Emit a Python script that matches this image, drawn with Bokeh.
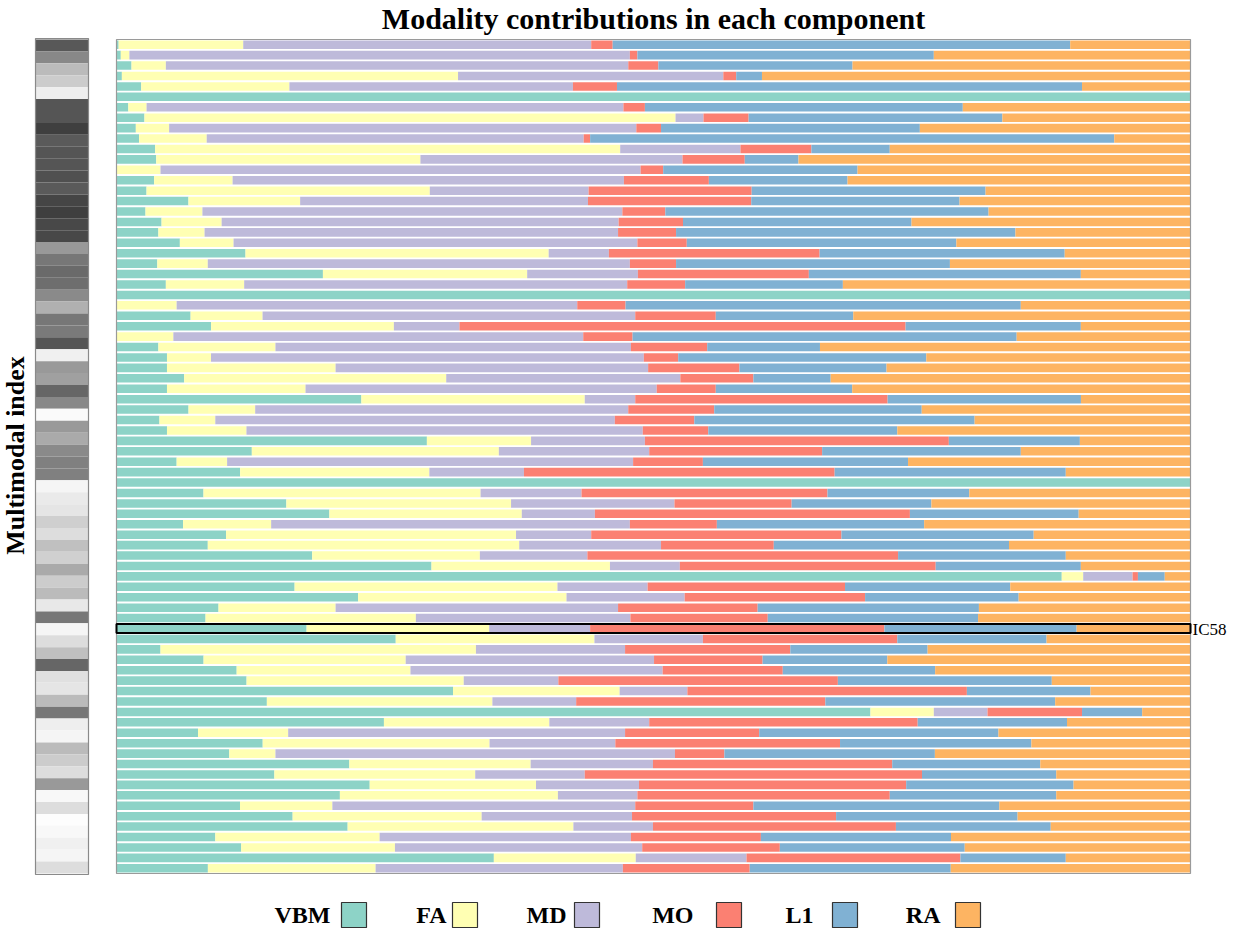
from math import pi

from bokeh.plotting import figure
from bokeh.models import Range1d
from bokeh.core.properties import value
from bokeh.embed import file_html
from bokeh.resources import INLINE

# ---- data -------------------------------------------------------------
modalities = ["VBM", "FA", "MD", "MO", "L1", "RA"]
colors = ["#8dd3c7", "#ffffb3", "#bebada", "#fb8072", "#80b1d3", "#fdb462"]

# percentage contribution of each modality, one entry per component (top to bottom)
vbm = [0.2, 0.4, 1.4, 0.5, 2.3, 100, 1.1, 2.6, 1.8, 2.1,
       3.6, 3.7, 0.0, 3.5, 2.8, 6.7, 2.7, 4.2, 3.9, 5.9,
       12.0, 3.8, 19.2, 4.6, 100, 0.0, 6.9, 8.8, 0.0, 3.9,
       4.7, 4.7, 6.3, 4.7, 22.8, 6.7, 4.0, 4.7, 28.9, 12.6,
       5.6, 11.5, 100, 8.1, 15.8, 19.8, 6.2, 10.2, 8.5, 18.2,
       29.3, 88.1, 16.6, 22.5, 9.5, 8.3, 17.7, 26.0, 4.1, 8.1,
       11.2, 12.1, 31.3, 14.0, 70.2, 24.9, 7.6, 13.6, 10.5, 21.7,
       14.7, 23.6, 20.8, 11.5, 16.4, 21.5, 9.2, 11.6, 35.1, 8.5]
fa = [11.6, 0.8, 3.2, 31.3, 13.8, 0, 1.7, 49.4, 3.1, 6.3,
      43.3, 24.6, 4.1, 7.3, 26.4, 10.4, 5.3, 5.6, 4.3, 5.0,
      28.2, 4.7, 19.0, 7.3, 0, 5.6, 6.7, 17.0, 5.3, 10.9,
      4.1, 15.7, 24.4, 12.9, 20.8, 6.2, 5.2, 7.4, 9.7, 23.0,
      4.7, 17.6, 0, 25.8, 20.9, 17.9, 8.2, 27.0, 29.0, 15.6,
      16.6, 2.0, 24.5, 19.4, 10.9, 19.6, 17.0, 18.5, 29.4, 18.8,
      16.2, 20.2, 15.5, 21.0, 5.9, 15.4, 8.4, 21.1, 4.3, 16.9,
      18.7, 15.5, 20.3, 8.6, 17.6, 21.0, 15.3, 14.3, 13.2, 15.6]
md = [32.4, 46.6, 43.1, 24.7, 26.4, 0, 44.4, 2.6, 43.5, 35.1,
      11.2, 24.4, 44.7, 36.4, 14.8, 26.8, 39.1, 37.0, 38.5, 37.6,
      5.6, 39.3, 10.3, 35.7, 0, 37.3, 34.7, 6.1, 38.2, 33.1,
      40.3, 29.1, 21.8, 32.7, 4.7, 34.7, 37.2, 36.9, 10.6, 14.0,
      37.8, 8.8, 0, 9.4, 15.2, 6.8, 33.4, 7.0, 13.2, 10.0,
      6.5, 4.6, 8.4, 11.0, 26.3, 20.0, 9.4, 10.1, 13.9, 23.1,
      23.5, 8.8, 6.3, 7.8, 5.0, 9.3, 31.4, 11.7, 37.2, 11.4,
      10.2, 9.6, 7.4, 28.2, 14.0, 7.4, 23.4, 23.0, 10.3, 23.0]
mo = [2.0, 0.7, 2.8, 1.2, 4.1, 0, 2.0, 4.2, 2.3, 0.6,
      6.6, 5.8, 2.1, 7.9, 15.2, 15.2, 4.0, 6.0, 5.4, 4.6,
      19.6, 4.3, 15.9, 5.4, 0, 4.5, 7.5, 41.5, 4.6, 7.1,
      3.2, 8.5, 6.8, 5.5, 23.5, 8.0, 7.4, 6.1, 28.3, 16.1,
      6.5, 28.9, 0, 22.9, 10.9, 29.3, 8.1, 23.3, 10.5, 28.9,
      23.8, 0.5, 18.4, 16.8, 13.0, 12.8, 27.4, 18.1, 15.4, 10.1,
      11.2, 26.0, 26.0, 23.2, 8.8, 25.0, 12.5, 20.9, 4.6, 22.3,
      31.4, 24.9, 23.5, 11.0, 19.0, 22.6, 12.1, 12.8, 19.9, 11.8]
l1 = [42.6, 27.6, 18.1, 2.4, 43.3, 0, 29.6, 23.6, 24.1, 48.8,
      7.3, 5.0, 18.1, 12.9, 21.8, 19.4, 30.1, 21.3, 31.6, 25.1,
      22.8, 25.5, 25.3, 14.7, 0, 36.8, 12.8, 16.3, 35.8, 10.5,
      23.1, 13.7, 7.2, 12.7, 18.0, 19.3, 26.1, 17.6, 12.2, 18.5,
      19.1, 21.5, 0, 13.2, 13.0, 15.7, 19.3, 17.9, 21.9, 15.6,
      13.5, 2.5, 15.4, 14.3, 20.6, 19.6, 17.9, 13.9, 12.8, 11.6,
      14.2, 19.9, 11.5, 21.4, 5.6, 13.9, 22.3, 17.8, 19.6, 13.8,
      12.5, 15.6, 15.5, 22.9, 16.9, 14.4, 17.7, 17.2, 9.8, 18.7]
ra = [11.2, 23.9, 31.5, 39.9, 10.1, 0, 21.2, 17.5, 25.2, 7.1,
      28.0, 36.5, 31.0, 31.9, 19.1, 21.5, 18.8, 26.0, 16.3, 21.8,
      11.7, 22.4, 10.2, 32.4, 0, 15.8, 31.4, 10.2, 16.2, 34.5,
      24.6, 28.3, 33.5, 31.5, 10.2, 25.0, 20.1, 27.3, 10.3, 15.8,
      26.3, 11.6, 0, 20.6, 24.1, 10.4, 24.8, 14.6, 16.9, 11.6,
      10.2, 2.4, 16.8, 16.0, 19.7, 19.8, 10.6, 13.4, 24.5, 28.2,
      23.8, 12.9, 9.3, 12.6, 4.5, 11.5, 17.9, 14.8, 23.8, 14.0,
      12.5, 10.9, 12.5, 17.8, 16.1, 13.0, 22.3, 21.0, 11.6, 22.3]

# grey level (0 = black, 255 = white) of the multimodal index strip, top to bottom
index_shade = [88, 136, 187, 204, 238, 85, 85, 63, 90, 85,
               85, 80, 90, 69, 63, 72, 72, 153, 119, 106,
               110, 138, 176, 119, 122, 85, 240, 153, 160, 102,
               136, 250, 153, 170, 138, 128, 128, 245, 234, 229,
               207, 221, 192, 208, 170, 204, 187, 232, 119, 245,
               221, 192, 102, 224, 229, 187, 119, 238, 245, 187,
               204, 221, 153, 248, 221, 253, 248, 240, 245, 221]

highlight_row = 56
highlight_label = "IC58"

title_text = "Modality contributions in each component"
ylabel_text = "Multimodal index"

# ---- geometry helpers (page pixels -> data units) --------------------
W, H = 1234, 928
PLOT_L, PLOT_R, PLOT_T, PLOT_B = 116, 1190, 39, 873
n_rows = len(vbm)
x_scale = (PLOT_R - PLOT_L) / 100.0
y_scale = (PLOT_B - PLOT_T) / n_rows


def px_x(px):
    return (px - PLOT_L) / x_scale


def px_y(py):
    return (py - PLOT_T) / y_scale


p = figure(width=W, height=H,
           x_range=Range1d(px_x(0), px_x(W)),
           y_range=Range1d(px_y(H), px_y(0)),
           output_backend="svg", toolbar_location=None,
           x_axis_location=None, y_axis_location=None,
           min_border=0, min_border_left=0, min_border_right=0,
           min_border_top=0, min_border_bottom=0)
p.grid.visible = False
p.outline_line_color = None
p.background_fill_color = "white"
p.border_fill_color = "white"

# ---- stacked 100% bars ------------------------------------------------
series = [vbm, fa, md, mo, l1, ra]
totals = [sum(vals) for vals in zip(*series)]
rows = [i + 0.5 for i in range(n_rows)]
left = [0.0] * n_rows
for vals, col in zip(series, colors):
    share = [100.0 * v / t for v, t in zip(vals, totals)]
    right = [a + b for a, b in zip(left, share)]
    p.hbar(y=rows, left=left, right=right, height=0.82,
           fill_color=col, line_color=None)
    left = right

# plot frame
p.quad(left=[0], right=[100], top=[0], bottom=[n_rows],
       fill_color=None, line_color="#9a9a9a", line_width=1.2)

# highlighted component
p.quad(left=[0], right=[100], top=[highlight_row + 0.06],
       bottom=[highlight_row + 0.94], fill_color=None,
       line_color="black", line_width=2)
p.text(x=[px_x(1192)], y=[highlight_row + 0.6], text=[highlight_label],
       text_font=value("Liberation Serif"), text_font_size="17px",
       text_color="black", text_align="left", text_baseline="middle")

# ---- multimodal index strip -------------------------------------------
n_cells = len(index_shade)
cell_h = n_rows / n_cells
p.quad(left=[px_x(35)] * n_cells, right=[px_x(88)] * n_cells,
       top=[i * cell_h for i in range(n_cells)],
       bottom=[(i + 1) * cell_h for i in range(n_cells)],
       fill_color=["#%02x%02x%02x" % (g, g, g) for g in index_shade],
       line_color=None)
p.quad(left=[px_x(35)], right=[px_x(88)], top=[px_y(38)], bottom=[px_y(874)],
       fill_color=None, line_color="#8a8a8a", line_width=1.2)

# ---- titles -------------------------------------------------------------
p.text(x=[px_x(653)], y=[px_y(18)], text=[title_text],
       text_font=value("Liberation Serif"), text_font_style="bold",
       text_font_size="30px", text_color="black",
       text_align="center", text_baseline="middle")
p.text(x=[px_x(15)], y=[px_y(455)], text=[ylabel_text],
       text_font=value("Liberation Serif"), text_font_style="bold",
       text_font_size="26px", text_color="black", angle=pi / 2,
       text_align="center", text_baseline="middle")

# ---- legend ------------------------------------------------------------
label_right_px = [330, 446, 566, 693, 813, 940]
box_left_px = [341, 452, 574, 716, 832, 955]
box_size = 25
legend_top, legend_mid = 902, 914
p.text(x=[px_x(v) for v in label_right_px], y=[px_y(legend_mid)] * 6,
       text=modalities, text_font=value("Liberation Serif"),
       text_font_style="bold", text_font_size="24px", text_color="black",
       text_align="right", text_baseline="middle")
p.quad(left=[px_x(v) for v in box_left_px],
       right=[px_x(v + box_size) for v in box_left_px],
       top=[px_y(legend_top)] * 6, bottom=[px_y(legend_top + box_size)] * 6,
       fill_color=colors, line_color="#333333", line_width=1.2)

open("out.html", "w").write(file_html(p, INLINE))
